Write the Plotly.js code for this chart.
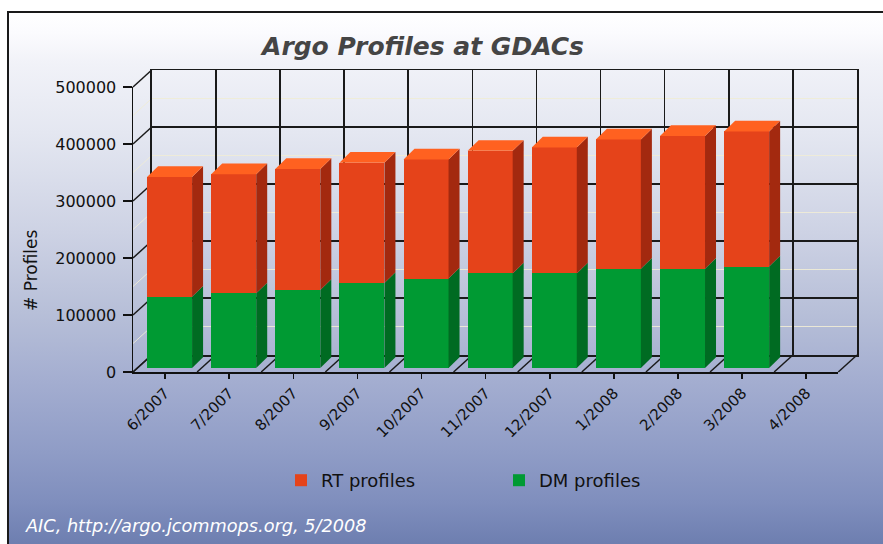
<!DOCTYPE html>
<html><head><meta charset="utf-8">
<script src="https://cdn.plot.ly/plotly-3.0.1.min.js"></script>
<style>
html,body{margin:0;padding:0;background:#fff;}
#wrap{position:relative;width:883px;height:544px;overflow:hidden;background:#fff;}
#bg{position:absolute;left:7px;top:11px;right:-4px;bottom:-4px;border-left:2px solid #1a1a1a;border-top:2px solid #1a1a1a;
background:linear-gradient(to bottom,#ffffff 0px,#fbfbfe 20px,#f1f2f8 50px,#e4e7f1 120px,#cdd2e4 220px,#b7bfd8 300px,#a3add0 370px,#8f9cc6 440px,#7f8ebd 490px,#6b7cae 537px);}
#chart{position:absolute;left:0;top:0;width:883px;height:544px;}
</style></head><body>
<div id="wrap"><div id="bg"></div><div id="chart"></div></div>
<script>
// ---- data ----
const categories = ['6/2007','7/2007','8/2007','9/2007','10/2007','11/2007','12/2007','1/2008','2/2008','3/2008','4/2008'];
const dmProfiles = [125000,131000,137000,149000,157000,166000,166000,174000,174000,178000,null];
const rtProfiles = [210000,209000,212000,211000,209000,215000,221000,227000,233000,237000,null];
const yTickValues = [0,100000,200000,300000,400000,500000];
const yTickText = ['0','100000','200000','300000','400000','500000'];
const seriesNames = ['DM profiles','RT profiles'];

// ---- geometry (pixels) ----
const W=883,H=544;
const FX0=133, FX1=838, FY0=372, FY1=87;   // front plane
const DX=18.7, DY=17;                        // back wall offset
const BOX=4.5, BOY=4;                        // bar front offset
const BARW=45, BDX=11, BDY=10.7;             // bar width and depth
const YMAX=500000;
const L=FX0, T=FY1-DY, R=W-(FX1+DX), B=H-FY0;
const PW=W-L-R, PH=H-T-B;
const nCat=categories.length;
const catPx=(FX1-FX0)/nCat;
const valPx=(FY0-FY1)/YMAX;
const px2x=p=>(p-L)/PW, py2y=p=>(H-B-p)/PH;
const idx=categories.map((_,i)=>i);
const bw=BARW/catPx, bdx=BDX/catPx, bdy=BDY/valPx;

const col={dm:'#009a33',dmSide:'#006b22',rt:'#e5431a',rtSide:'#a3290f',rtTop:'#ff6120'};

const shapes=[];
// side wall lines
for(let v=0; v<=YMAX; v+=50000){
  const major = v%100000===0;
  const y=FY0-v*valPx;
  shapes.push({type:'line',xref:'paper',yref:'paper',layer:'below',
    x0:px2x(FX0),y0:py2y(y),x1:px2x(FX0+DX),y1:py2y(y-DY),
    line:{color: major?'#1a1a1a':'rgba(240,236,214,0.9)', width: major?1.5:1}});
}
// floor lines
for(let k=0;k<=nCat;k++){
  const x=FX0+k*catPx;
  shapes.push({type:'line',xref:'paper',yref:'paper',layer:'below',
    x0:px2x(x),y0:py2y(FY0),x1:px2x(x+DX),y1:py2y(FY0-DY),
    line:{color:'#1a1a1a',width:1.5}});
}
// 3D faces of bars
function poly(pts,color){
  return {type:'path',xref:'x3',yref:'y3',layer:'above',fillcolor:color,line:{width:0},
    path:'M'+pts.map(p=>p[0]+','+p[1]).join('L')+'Z'};
}
idx.forEach(i=>{
  const dm=dmProfiles[i], rt=rtProfiles[i];
  if(dm==null||rt==null) return;
  const xl=i-bw/2, xr=i+bw/2, tot=dm+rt;
  shapes.push(poly([[xr,0],[xr+bdx,bdy],[xr+bdx,dm+bdy],[xr,dm]],col.dmSide));
  shapes.push(poly([[xr,dm],[xr+bdx,dm+bdy],[xr+bdx,tot+bdy],[xr,tot]],col.rtSide));
  shapes.push(poly([[xl,tot],[xl+bdx,tot+bdy],[xr+bdx,tot+bdy],[xr,tot]],col.rtTop));
});

const font='DejaVu Sans';
const traces=[
  {type:'scatter',x:[],y:[],xaxis:'x',yaxis:'y',showlegend:false,hoverinfo:'skip'},
  {type:'scatter',x:[],y:[],xaxis:'x2',yaxis:'y2',showlegend:false,hoverinfo:'skip'},
  {type:'bar',name:seriesNames[0],x:idx,y:dmProfiles,xaxis:'x3',yaxis:'y3',width:bw,marker:{color:col.dm,line:{width:0}}},
  {type:'bar',name:seriesNames[1],x:idx,y:rtProfiles,xaxis:'x3',yaxis:'y3',width:bw,marker:{color:col.rt,line:{width:0}}}
];

const xr=[-0.5,nCat-0.5];
const layout={
  width:W,height:H,
  paper_bgcolor:'rgba(0,0,0,0)',plot_bgcolor:'rgba(0,0,0,0)',
  margin:{l:L,r:R,t:T,b:B,pad:0},
  barmode:'stack',hovermode:false,showlegend:true,
  title:{text:'Argo Profiles at GDACs',xref:'container',yref:'container',x:423/W,y:1-46/H,xanchor:'center',yanchor:'middle',
    font:{family:font,size:25,weight:'bold',style:'italic',color:'#454545'}},
  xaxis:{domain:[0,(FX1-FX0)/PW],anchor:'y',range:xr,tickmode:'array',tickvals:idx,ticktext:categories,tickangle:-45,
    ticks:'outside',ticklen:5,tickwidth:1.5,tickcolor:'#111',showline:true,linecolor:'#111',linewidth:1.5,
    showgrid:false,zeroline:false,tickfont:{family:font,size:15,color:'#111'},fixedrange:true},
  yaxis:{domain:[0,(FY0-FY1)/PH],anchor:'x',range:[0,YMAX],tickmode:'array',tickvals:yTickValues,ticktext:yTickText,
    ticks:'outside',ticklen:9,tickwidth:1.5,tickcolor:'#111',showline:true,linecolor:'#111',linewidth:1.5,ticklabelstandoff:3,
    showgrid:false,zeroline:false,tickfont:{family:font,size:16,color:'#111'},fixedrange:true},
  xaxis2:{domain:[DX/PW,Math.min(1,(DX+FX1-FX0)/PW)],anchor:'y2',range:xr,tickmode:'linear',tick0:-0.5,dtick:1,
    showgrid:true,gridcolor:'#1a1a1a',gridwidth:1.5,showline:true,mirror:true,linecolor:'#1a1a1a',linewidth:1.5,
    showticklabels:false,ticks:'',zeroline:false,fixedrange:true},
  yaxis2:{domain:[DY/PH,Math.min(1,(DY+FY0-FY1)/PH)],anchor:'x2',range:[0,YMAX],tickmode:'linear',tick0:0,dtick:100000,
    showgrid:true,gridcolor:'#1a1a1a',gridwidth:1.5,showline:true,mirror:true,linecolor:'#1a1a1a',linewidth:1.5,
    minor:{tickmode:'linear',tick0:0,dtick:50000,showgrid:true,gridcolor:'rgba(240,236,214,0.9)',gridwidth:1},
    showticklabels:false,ticks:'',zeroline:false,fixedrange:true},
  xaxis3:{domain:[BOX/PW,(BOX+FX1-FX0)/PW],anchor:'y3',range:xr,visible:false,fixedrange:true},
  yaxis3:{domain:[BOY/PH,(BOY+FY0-FY1)/PH],anchor:'x3',range:[0,YMAX],visible:false,fixedrange:true},
  legend:{orientation:'h',xref:'container',yref:'container',x:281/W,xanchor:'left',y:1-462/H,yanchor:'top',
    traceorder:'reversed',bgcolor:'rgba(0,0,0,0)',borderwidth:0,entrywidthmode:'pixels',entrywidth:173,
    font:{family:font,size:18,color:'#111'}},
  shapes:shapes,
  annotations:[
    {text:'# Profiles',xref:'paper',yref:'paper',x:px2x(31),y:py2y(270),xanchor:'center',yanchor:'middle',textangle:-90,
      showarrow:false,font:{family:font,size:17,color:'#111'}},
    {text:'AIC, http://argo.jcommops.org, 5/2008',xref:'paper',yref:'paper',x:px2x(23),y:py2y(526),xanchor:'left',yanchor:'middle',
      showarrow:false,font:{family:font,size:17.7,style:'italic',color:'#ffffff'}}
  ]
};
Plotly.newPlot('chart',traces,layout,{displayModeBar:false,staticPlot:true});
</script>
</body></html>
